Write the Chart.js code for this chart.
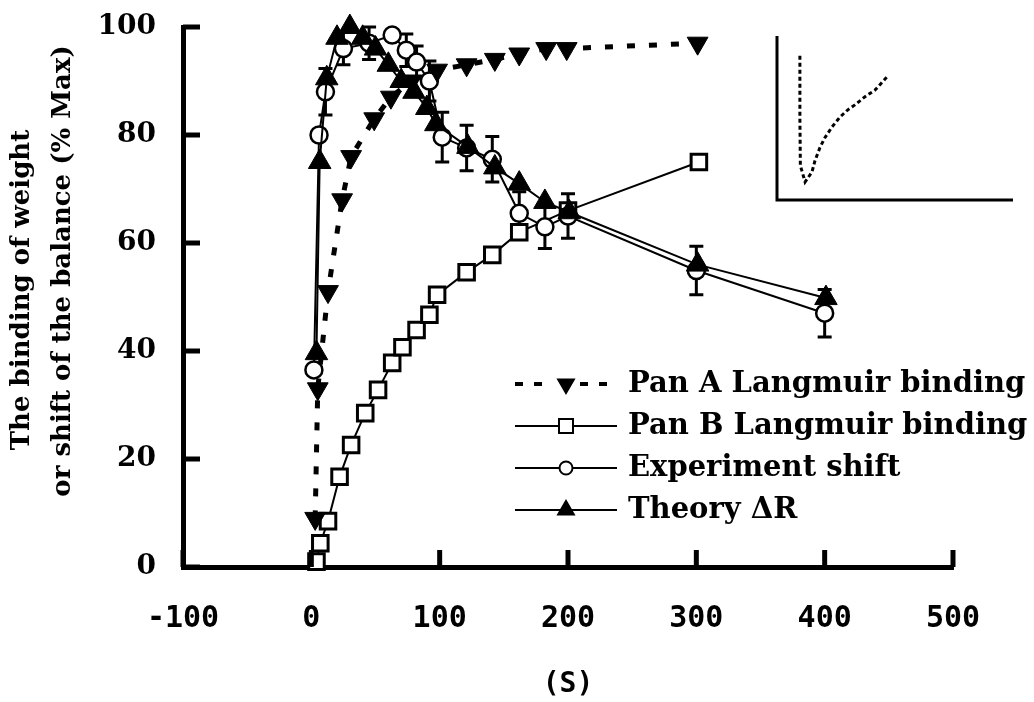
<!DOCTYPE html>
<html>
<head>
<meta charset="utf-8">
<script src="https://cdn.jsdelivr.net/npm/chart.js@4.4.1/dist/chart.umd.min.js"></script>
<style>
html, body { margin: 0; padding: 0; background: #fff; }
#wrap { position: relative; width: 1034px; height: 702px; }
#inset { position: absolute; left: 775px; top: 34px; }
</style>
</head>
<body>
<div id="wrap">
  <canvas id="myChart" width="1034" height="702"></canvas>
  <canvas id="inset" width="240" height="168"></canvas>
</div>
<script>
// values
const panAX = [3, 5, 13, 24, 31, 49, 62, 78, 98, 121, 143, 162, 183, 199, 301];
const panAY = [9, 33, 51, 68, 76, 83, 87, 90, 92, 93, 94, 95, 96, 96, 97];

const panBX = [4, 7, 13, 22, 31, 42, 52, 63, 71, 82, 92, 98, 121, 141, 162, 200, 302];
const panBY = [1, 4.4, 8.5, 16.7, 22.6, 28.5, 32.8, 37.8, 40.7, 43.9, 46.7, 50.4, 54.6, 57.8, 62, 66, 75];

const expX = [2, 6, 11, 25, 45, 63, 74, 82, 92, 102, 121, 141, 162, 182, 200, 300, 400];
const expY = [36.5, 80, 88, 96, 97, 98.5, 95.7, 93.5, 90, 79.6, 77.6, 75.5, 65.5, 63, 65, 54.9, 47];
const expErr = [0, 0, 4.3, 3, 3, 0, 3, 3, 3.7, 4.6, 4.2, 4.2, 4, 4, 4.1, 4.5, 4.4];

const theoryX = [4, 6.5, 12, 20, 30, 40, 50, 60, 70, 80, 90, 97, 122, 143, 162, 182, 201, 301, 401];
const theoryY = [39.6, 75, 90.5, 98, 100, 98, 96, 93, 90, 88, 85, 82, 77.8, 74, 71, 67.6, 65.7, 56, 49.8];

const seriesNames = ['Pan A Langmuir binding', 'Pan B Langmuir binding', 'Experiment shift', 'Theory \u0394R'];
const yTitleLines = ['The binding of weight', 'or shift of the balance (% Max)'];
const xTicks = [-100, 0, 100, 200, 300, 400, 500];
const yTicks = [0, 20, 40, 60, 80, 100];

// small inset curve (top right)
const insetX = [9.7, 9.7, 9.9, 11.9, 14.8, 16.1, 18.2, 20.3, 23.3, 26.7, 30, 33, 37.3, 41.5, 46.6];
const insetY = [88, 50, 21, 11, 17, 24, 32, 38, 44.5, 50.6, 55, 58, 63, 67, 75];

function pts(xs, ys) {
    return xs.map((x, i) => ({ x: x, y: ys[i] }));
}

const serif = 'DejaVu Serif';

const insideTicks = {
    id: 'insideTicks',
    afterDraw(chart) {
        const ctx = chart.ctx;
        const xs = chart.scales.x, ys = chart.scales.y;
        const a = chart.chartArea;
        ctx.save();
        ctx.strokeStyle = '#000';
        ctx.lineWidth = 5;
        xTicks.forEach(v => {
            const px = xs.getPixelForValue(v);
            ctx.beginPath();
            ctx.moveTo(px, a.bottom);
            ctx.lineTo(px, a.bottom - 17);
            ctx.stroke();
        });
        yTicks.forEach(v => {
            const py = ys.getPixelForValue(v);
            ctx.beginPath();
            ctx.moveTo(a.left, py);
            ctx.lineTo(a.left + 17, py);
            ctx.stroke();
        });
        ctx.restore();
    }
};

// y title, two rotated lines, placed like the original
const yTitle = {
    id: 'yTitle',
    afterDraw(chart) {
        const ctx = chart.ctx;
        ctx.save();
        ctx.fillStyle = '#000';
        ctx.font = 'bold 26px "' + serif + '"';
        ctx.textAlign = 'center';
        ctx.textBaseline = 'middle';
        [[22, 290], [63, 271]].forEach((p, i) => {
            ctx.save();
            ctx.translate(p[0], p[1]);
            ctx.rotate(-Math.PI / 2);
            ctx.fillText(yTitleLines[i], 0, 0);
            ctx.restore();
        });
        ctx.restore();
    }
};

const errorBars = {
    id: 'errorBars',
    beforeDatasetsDraw(chart) {
        const ctx = chart.ctx;
        const xs = chart.scales.x, ys = chart.scales.y;
        ctx.save();
        ctx.strokeStyle = '#000';
        ctx.lineWidth = 3;
        expX.forEach((x, i) => {
            if (!expErr[i]) return;
            const px = xs.getPixelForValue(x);
            const top = ys.getPixelForValue(expY[i] + expErr[i]);
            const bot = ys.getPixelForValue(expY[i] - expErr[i]);
            ctx.beginPath();
            ctx.moveTo(px, top); ctx.lineTo(px, bot);
            ctx.moveTo(px - 7, top); ctx.lineTo(px + 7, top);
            ctx.moveTo(px - 7, bot); ctx.lineTo(px + 7, bot);
            ctx.stroke();
        });
        ctx.restore();
    }
};

function marker(ctx, style, x, y, r, rot) {
    ctx.beginPath();
    if (style === 'rect') {
        ctx.rect(x - r, y - r, 2 * r, 2 * r);
    } else if (style === 'circle') {
        ctx.arc(x, y, r, 0, Math.PI * 2);
    } else {
        const s = rot ? -1 : 1;
        ctx.moveTo(x, y - s * r);
        ctx.lineTo(x + r * 0.87, y + s * r * 0.5);
        ctx.lineTo(x - r * 0.87, y + s * r * 0.5);
        ctx.closePath();
    }
}

const lineLegend = {
    id: 'lineLegend',
    afterDraw(chart) {
        const ctx = chart.ctx;
        const rows = [384, 426, 468, 510];
        const x0 = 515, x1 = 617, xm = 566;
        ctx.save();
        chart.data.datasets.forEach((ds, i) => {
            const y = rows[i];
            ctx.strokeStyle = '#000';
            if (i === 0) {
                ctx.lineWidth = 4;
                ctx.setLineDash([8, 11]);
                ctx.beginPath();
                ctx.moveTo(x0, y); ctx.lineTo(xm - 14, y);
                ctx.moveTo(xm + 14, y); ctx.lineTo(x1, y);
                ctx.stroke();
                ctx.setLineDash([]);
            } else {
                ctx.lineWidth = 2;
                ctx.beginPath();
                ctx.moveTo(x0, y); ctx.lineTo(x1, y);
                ctx.stroke();
            }
            ctx.fillStyle = ds.pointBackgroundColor;
            ctx.lineWidth = 2;
            const r = ds.pointStyle === 'rect' ? 7 : ds.pointStyle === 'circle' ? 6.5 : 9;
            marker(ctx, ds.pointStyle, xm, y, r, ds.pointRotation === 180);
            ctx.fill();
            ctx.stroke();
            ctx.fillStyle = '#000';
            ctx.font = 'bold 29px "' + serif + '"';
            ctx.textAlign = 'left';
            ctx.textBaseline = 'middle';
            ctx.fillText(ds.label, 628, y);
        });
        ctx.restore();
    }
};

const ctx = document.getElementById('myChart').getContext('2d');
const myChart = new Chart(ctx, {
    type: 'line',
    data: {
        datasets: [{
            label: seriesNames[0],
            data: pts(panAX, panAY),
            borderColor: '#000',
            borderWidth: 5,
            borderDash: [8, 14],
            pointStyle: 'triangle',
            pointRotation: 180,
            pointRadius: 12,
            pointBackgroundColor: '#000',
            pointBorderColor: '#000',
            pointBorderWidth: 1,
            order: 1
        }, {
            label: seriesNames[1],
            data: pts(panBX, panBY),
            borderColor: '#000',
            borderWidth: 2,
            pointStyle: 'rect',
            pointRadius: 11,
            pointBackgroundColor: '#fff',
            pointBorderColor: '#000',
            pointBorderWidth: 3,
            order: 3
        }, {
            label: seriesNames[2],
            data: pts(expX, expY),
            borderColor: '#000',
            borderWidth: 2,
            pointStyle: 'circle',
            pointRadius: 8.5,
            pointBackgroundColor: '#fff',
            pointBorderColor: '#000',
            pointBorderWidth: 2.5,
            order: 2
        }, {
            label: seriesNames[3],
            data: pts(theoryX, theoryY),
            borderColor: '#000',
            borderWidth: 2,
            pointStyle: 'triangle',
            pointRadius: 13,
            pointBackgroundColor: '#000',
            pointBorderColor: '#000',
            pointBorderWidth: 1,
            order: 0
        }]
    },
    options: {
        responsive: false,
        animation: false,
        clip: false,
        layout: { padding: { left: 0, top: 27, right: 81, bottom: 0 } },
        plugins: { legend: { display: false }, tooltip: { enabled: false } },
        elements: { line: { tension: 0 } },
        scales: {
            x: {
                type: 'linear',
                min: -100,
                max: 500,
                afterFit: s => { s.height = 135; },
                afterBuildTicks: s => { s.ticks = xTicks.map(v => ({ value: v })); },
                grid: { display: false, drawTicks: false },
                border: { display: true, color: '#000', width: 5 },
                ticks: {
                    color: '#000',
                    padding: 34,
                    font: { family: 'DejaVu Sans Mono', weight: 'bold', size: 30 }
                },
                title: {
                    display: true,
                    text: '(S)',
                    color: '#000',
                    padding: 0,
                    font: { family: 'DejaVu Sans Mono', weight: 'bold', size: 28 }
                }
            },
            y: {
                min: 0,
                max: 100,
                afterFit: s => { s.width = 183; s.paddingTop = 0; s.paddingBottom = 0; },
                afterBuildTicks: s => { s.ticks = yTicks.map(v => ({ value: v })); },
                grid: { display: false, drawTicks: false },
                border: { display: true, color: '#000', width: 5 },
                ticks: {
                    color: '#000',
                    padding: 27,
                    font: { family: serif, weight: 'bold', size: 28 }
                },
                title: { display: false }
            }
        }
    },
    plugins: [insideTicks, errorBars, yTitle, lineLegend]
});

const insetAxes = {
    id: 'insetAxes',
    afterDraw(chart) {
        const c = chart.ctx, a = chart.chartArea;
        c.save();
        c.strokeStyle = '#000';
        c.lineWidth = 3;
        c.beginPath();
        c.moveTo(a.left, a.top);
        c.lineTo(a.left, a.bottom);
        c.lineTo(a.right, a.bottom);
        c.stroke();
        c.restore();
    }
};

new Chart(document.getElementById('inset').getContext('2d'), {
    type: 'line',
    data: {
        datasets: [{
            data: pts(insetX, insetY),
            borderColor: '#000',
            borderWidth: 3,
            borderDash: [4, 3],
            pointRadius: 0
        }]
    },
    options: {
        responsive: false,
        animation: false,
        layout: { padding: 2 },
        plugins: { legend: { display: false }, tooltip: { enabled: false } },
        scales: {
            x: { type: 'linear', min: 0, max: 100, display: false },
            y: { min: 0, max: 100, display: false }
        }
    },
    plugins: [insetAxes]
});
</script>
</body>
</html>
